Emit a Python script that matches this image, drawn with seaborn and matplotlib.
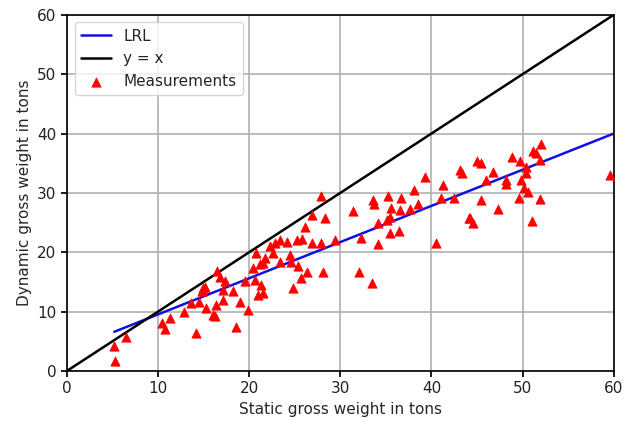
import numpy as np
import pandas as pd
import seaborn as sns
import matplotlib
matplotlib.use("Agg")
import matplotlib.pyplot as plt

static_t = [5.2, 5.3, 6.5, 10.4, 10.8, 11.3, 12.8, 13.6, 14.2, 14.5, 14.8, 15.1,
            15.3, 16.0, 16.2, 16.4, 16.5, 16.8, 17.4, 17.1, 18.2, 18.6, 19.0, 19.5,
            19.9, 14.9, 17.1, 20.4, 20.6, 20.8, 21.0, 21.2, 21.3, 21.5, 21.5, 21.7,
            22.3, 22.6, 22.8, 23.4, 23.4, 24.1, 24.5, 24.6, 24.8, 25.2, 25.4, 25.7,
            25.8, 26.1, 26.3, 26.9, 26.9, 27.9, 27.9, 28.1, 28.3, 29.4, 31.4, 32.1,
            32.3, 33.5, 33.6, 33.7, 34.1, 34.1, 35.1, 35.2, 35.4, 35.4, 35.6, 36.4,
            36.6, 36.7, 37.6, 38.1, 38.5, 39.3, 40.5, 41.1, 41.3, 42.5, 43.1, 43.3,
            44.1, 44.2, 44.6, 45.0, 45.4, 45.4, 46.0, 46.7, 47.3, 48.2, 48.2, 48.8,
            49.6, 49.7, 49.8, 50.2, 50.4, 50.4, 50.6, 51.0, 51.1, 51.5, 51.9, 51.9,
            52.0, 59.6]
dynamic_t = [4.2, 1.6, 5.8, 8.1, 7.0, 8.9, 10.0, 11.4, 6.4, 11.7, 13.4, 14.2,
             10.6, 9.4, 9.2, 11.1, 16.9, 15.9, 15.1, 12.0, 13.5, 7.4, 11.7, 15.1,
             10.3, 13.9, 13.6, 17.3, 15.3, 19.8, 12.8, 18.1, 14.5, 18.2, 13.1, 19.0,
             21.0, 19.8, 21.5, 22.1, 18.4, 21.8, 19.6, 18.4, 13.9, 22.1, 17.6, 15.6,
             22.2, 24.3, 16.7, 26.3, 21.5, 29.4, 21.5, 16.7, 25.7, 22.1, 26.9, 16.6,
             22.4, 14.8, 28.8, 28.2, 24.9, 21.4, 25.5, 29.4, 25.9, 23.2, 27.5, 23.6,
             27.1, 29.1, 27.3, 30.5, 28.2, 32.6, 21.6, 29.1, 31.4, 29.1, 33.9, 33.3,
             25.7, 25.7, 24.9, 35.3, 35.1, 28.8, 32.2, 33.6, 27.3, 32.2, 31.5, 36.1,
             29.1, 35.3, 32.2, 30.8, 34.3, 33.3, 30.2, 25.2, 37.0, 36.8, 35.6, 29.0,
             38.3, 33.0]

# LRL end points and the identity line
lrl_x = [5.2, 60]
lrl_y = [6.6, 40]
ident_x = [0, 60]
ident_y = [0, 60]

df = pd.DataFrame({"static": static_t, "dynamic": dynamic_t})

sns.set_theme(style="ticks")
plt.rcParams["font.family"] = ["DejaVu Sans"]

fig = plt.figure(figsize=(6.25, 4.23), dpi=100)
ax = fig.add_axes([0.107, 0.123, 0.875, 0.842])

sns.lineplot(x=lrl_x, y=lrl_y, color="#1010e0", linewidth=1.8, label="LRL", ax=ax)
sns.lineplot(x=ident_x, y=ident_y, color="black", linewidth=1.8, label="y = x", ax=ax)
sns.scatterplot(data=df, x="static", y="dynamic", marker="^", color="red",
                s=45, edgecolor="red", linewidth=0.5, label="Measurements", ax=ax, zorder=3)

ax.set_xlim(0, 60)
ax.set_ylim(0, 60)
ax.set_xticks(range(0, 61, 10))
ax.set_yticks(range(0, 61, 10))
ax.grid(True, color="#b0b0b0", linewidth=1.2)
ax.set_axisbelow(True)
for s in ax.spines.values():
    s.set_color("black")
    s.set_linewidth(1.2)
ax.tick_params(labelsize=11, color="black", labelcolor="#222222", length=4)
ax.set_xlabel("Static gross weight in tons", fontsize=11)
ax.set_ylabel("Dynamic gross weight in tons", fontsize=11)
ax.legend(loc="upper left", fontsize=11, frameon=True, framealpha=0.8,
          edgecolor="#cccccc", fancybox=True)

fig.savefig("out.png", dpi=100)
